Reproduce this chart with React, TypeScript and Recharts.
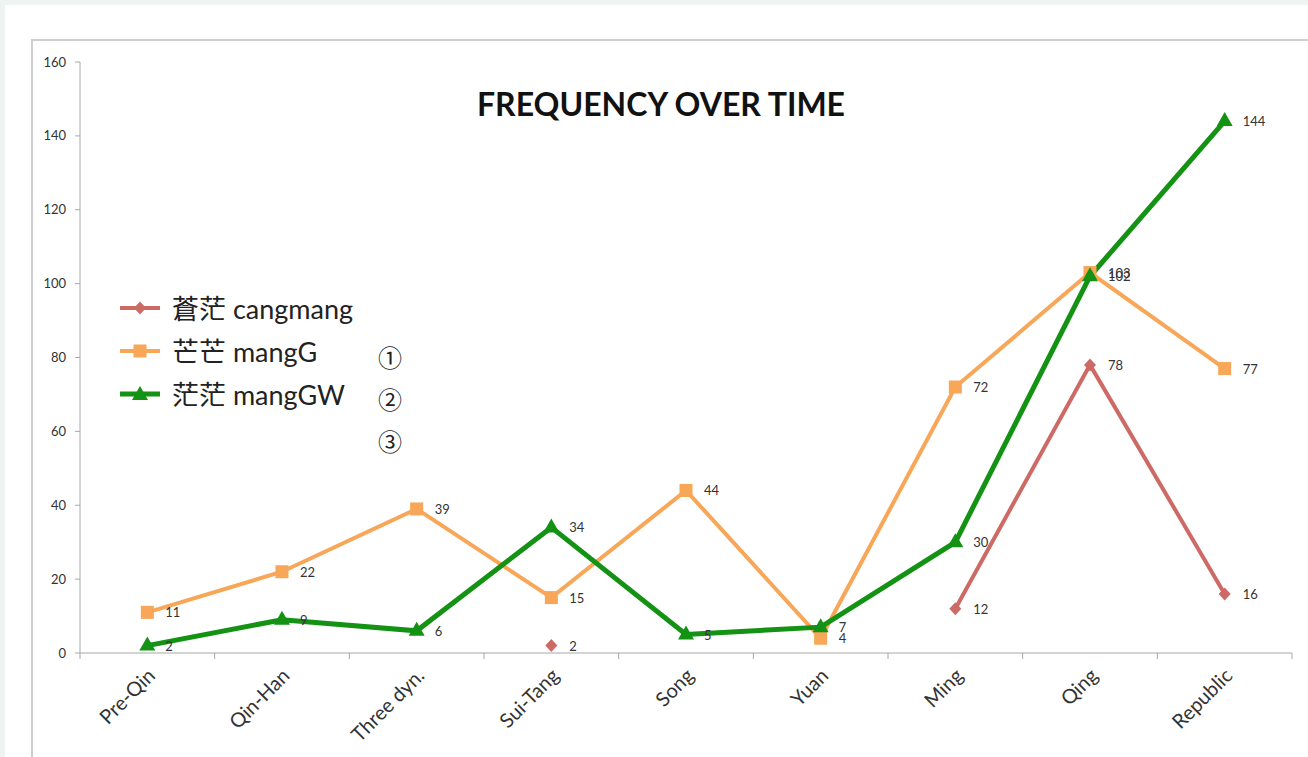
import { Line, LineChart, XAxis, YAxis } from "recharts";

const periods = ["Pre-Qin", "Qin-Han", "Three dyn.", "Sui-Tang", "Song", "Yuan", "Ming", "Qing", "Republic"];
const cangmang = [null, null, null, 2, null, null, 12, 78, 16];
const mangG = [11, 22, 39, 15, 44, 4, 72, 103, 77];
const mangGW = [2, 9, 6, 34, 5, 7, 30, 102, 144];
const yTicks = [0, 20, 40, 60, 80, 100, 120, 140, 160];
const circled = ["①", "②", "③"];

const series = [
  { key: "cangmang", name: "蒼茫 cangmang", color: "#cd6a66", width: 4, shape: "diamond" },
  { key: "mangG", name: "芒芒 mangG", color: "#f7a757", width: 4, shape: "square" },
  { key: "mangGW", name: "茫茫 mangGW", color: "#139213", width: 5, shape: "triangle" },
];

const data = periods.map((p, i) => ({
  period: p,
  cangmang: cangmang[i],
  mangG: mangG[i],
  mangGW: mangGW[i],
}));

const W = 1308;
const H = 757;
const PLOT_LEFT = 80;
const PLOT_RIGHT = 1292;
const PLOT_TOP = 62;
const PLOT_BOTTOM = 653;
const step = (PLOT_RIGHT - PLOT_LEFT) / periods.length;

const font = "Lato, 'Noto Sans CJK TC', sans-serif";
const textColor = "#333";
const axisColor = "#a8a8a8";

function Marker({ shape, color, cx, cy }: { shape: string; color: string; cx: number; cy: number }) {
  if (shape === "square") return <rect x={cx - 6.5} y={cy - 6.5} width={13} height={13} fill={color} />;
  if (shape === "triangle")
    return <polygon points={`${cx},${cy - 9} ${cx + 8},${cy + 5} ${cx - 8},${cy + 5}`} fill={color} />;
  return <polygon points={`${cx},${cy - 6.5} ${cx + 6},${cy} ${cx},${cy + 6.5} ${cx - 6},${cy}`} fill={color} />;
}

const makeDot = (shape: string, color: string) => (p: any) => {
  if (p.value == null || p.cy == null) return <g key={p.index} />;
  return <Marker key={p.index} shape={shape} color={color} cx={p.cx} cy={p.cy} />;
};

const renderLabel = (p: any) => {
  if (p.value == null) return null;
  return (
    <text x={p.x + 18} y={p.y + 5} fontSize={13} fill={textColor} fontFamily={font}>
      {p.value}
    </text>
  );
};

const XTick = (p: any) => {
  const { x, payload, index } = p;
  const tx = x + 9;
  const ty = PLOT_BOTTOM + 24;
  return (
    <g>
      <line x1={x - step / 2} x2={x - step / 2} y1={PLOT_BOTTOM} y2={PLOT_BOTTOM + 6} stroke={axisColor} />
      {index === periods.length - 1 && (
        <line x1={x + step / 2} x2={x + step / 2} y1={PLOT_BOTTOM} y2={PLOT_BOTTOM + 6} stroke={axisColor} />
      )}
      <text
        x={tx}
        y={ty}
        textAnchor="end"
        transform={`rotate(-45 ${tx} ${ty})`}
        fontSize={20}
        fill={textColor}
        fontFamily={font}
      >
        {payload.value}
      </text>
    </g>
  );
};

export default function App() {
  return (
    <div style={{ position: "absolute", left: 0, top: 0, width: W, height: H, background: "#eff4f2", overflow: "hidden" }}>
      <div style={{ position: "absolute", left: 5, top: 5, width: W, height: H, background: "#fff" }} />
      <div
        style={{
          position: "absolute",
          left: 31,
          top: 39,
          width: W,
          height: H,
          borderLeft: "2px solid #cfcfcf",
          borderTop: "2px solid #cfcfcf",
        }}
      />
      <div
        style={{
          position: "absolute",
          left: 361,
          width: 600,
          top: 84,
          textAlign: "center",
          fontFamily: font,
          fontWeight: 700,
          fontSize: 32,
          color: "#111",
          lineHeight: "40px",
        }}
      >
        FREQUENCY OVER TIME
      </div>
      <div style={{ position: "absolute", left: 0, top: 0 }}>
        <LineChart
          width={W}
          height={H}
          data={data}
          margin={{ top: PLOT_TOP, right: W - PLOT_RIGHT, left: PLOT_LEFT - 50, bottom: 24 }}
        >
          <XAxis
            dataKey="period"
            height={H - PLOT_BOTTOM - 24}
            padding={{ left: step / 2, right: step / 2 }}
            stroke={axisColor}
            tickLine={false}
            interval={0}
            tick={<XTick />}
          />
          <YAxis
            width={50}
            domain={[0, 160]}
            ticks={yTicks}
            stroke={axisColor}
            tickSize={5}
            tickMargin={9}
            tick={{ fontSize: 13, fill: textColor, fontFamily: font }}
          />
          {series.map((s) => (
            <Line
              key={s.key}
              dataKey={s.key}
              name={s.name}
              stroke={s.color}
              strokeWidth={s.width}
              dot={makeDot(s.shape, s.color)}
              activeDot={false}
              label={renderLabel}
              isAnimationActive={false}
            />
          ))}
        </LineChart>
      </div>
      <div style={{ position: "absolute", left: 118, top: 286, fontFamily: font, fontSize: 27, color: "#222" }}>
        {series.map((s) => (
          <div key={s.key} style={{ display: "flex", alignItems: "center", height: 43 }}>
            <svg width={44} height={20} style={{ marginRight: 10 }}>
              <line x1={2} x2={42} y1={10} y2={10} stroke={s.color} strokeWidth={s.width} />
              <Marker shape={s.shape} color={s.color} cx={22} cy={s.shape === "triangle" ? 11 : 10} />
            </svg>
            <span>{s.name}</span>
          </div>
        ))}
      </div>
      <div
        style={{
          position: "absolute",
          left: 378,
          top: 340,
          fontFamily: "'Noto Sans CJK SC', sans-serif",
          fontSize: 24,
          color: "#222",
        }}
      >
        {circled.map((c) => (
          <div key={c} style={{ height: 42, lineHeight: "34px" }}>
            {c}
          </div>
        ))}
      </div>
    </div>
  );
}
